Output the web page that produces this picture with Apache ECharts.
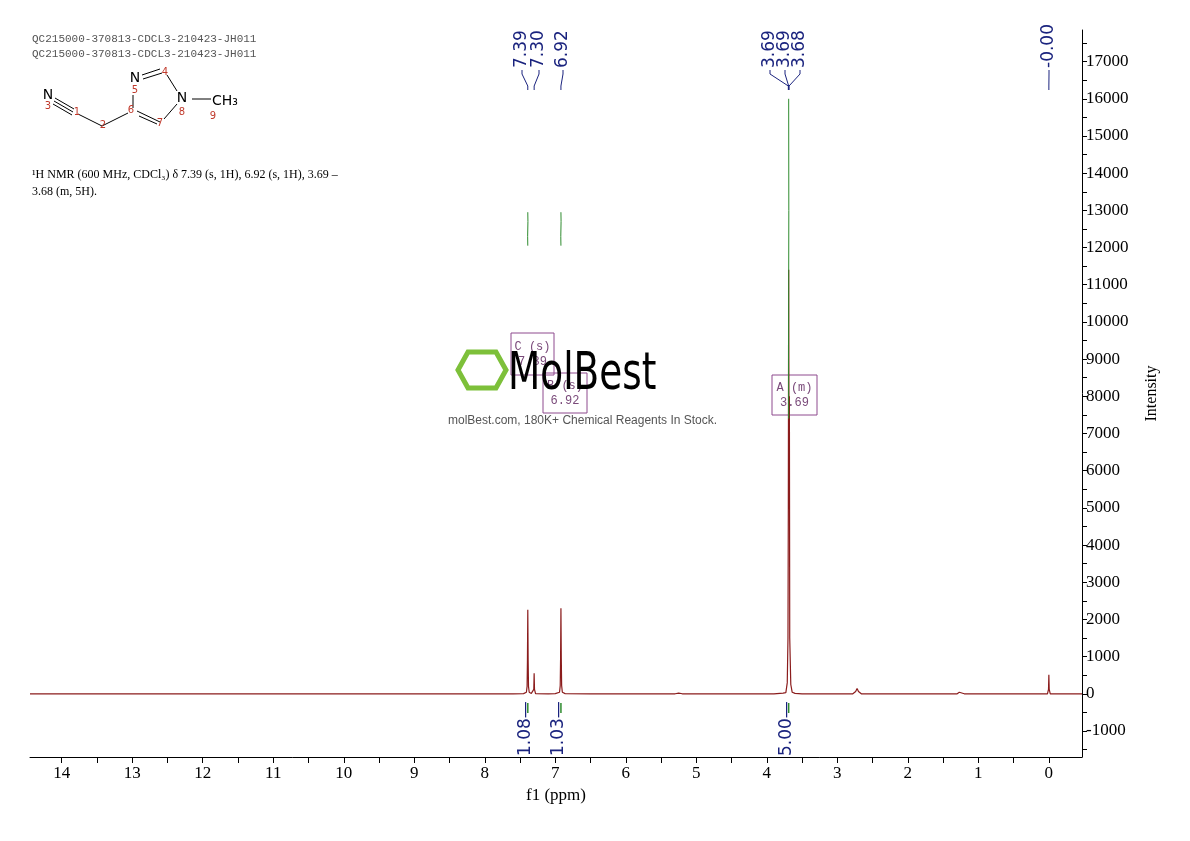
<!DOCTYPE html>
<html><head><meta charset="utf-8">
<script src="https://cdn.jsdelivr.net/npm/echarts@6/dist/echarts.min.js"></script>
<style>html,body{margin:0;padding:0;background:#fff}#c{width:1190px;height:841px}</style>
</head><body><div id="c"></div>
<script>
// spectrum points: [ppm, intensity]
const spectrum = [
 [14.45,0],[9.5,0],[7.6,0],[7.45,5],[7.41,40],[7.40,200],[7.395,900],[7.39,2260],[7.385,900],[7.38,200],[7.37,40],
 [7.34,10],[7.305,120],[7.30,550],[7.295,120],[7.28,5],[7.1,0],[7.0,5],[6.94,40],[6.93,220],[6.925,950],[6.92,2300],[6.915,950],[6.91,220],[6.90,40],[6.86,5],
 [6.5,0],[5.3,0],[5.25,20],[5.2,0],[3.9,0],[3.77,20],[3.75,60],[3.73,30],[3.71,300],[3.70,1500],[3.695,5000],[3.69,11400],[3.685,6000],[3.68,8000],[3.675,1500],[3.66,250],[3.64,40],[3.62,50],[3.60,10],[3.5,0],
 [3.33,0],[3.31,40],[3.29,0],[2.78,0],[2.74,60],[2.72,140],[2.70,60],[2.66,0],[1.3,0],[1.27,40],[1.25,10],[1.2,0],
 [0.02,0],[0.005,120],[0.0,510],[-0.005,120],[-0.02,0],[-0.47,0]
];
const integral1 = [[7.39,12050],[7.392,12300],[7.388,12700],[7.39,12950]];
const integral2 = [[6.92,12050],[6.922,12300],[6.918,12700],[6.92,12950]];
const integral3 = [[3.69,7400],[3.692,9000],[3.688,13000],[3.69,16000]];
const peakLabels = ['7.39','7.30','6.92','3.69','3.69','3.68','-0.00'];
const peakPos = [7.39,7.30,6.92,3.695,3.69,3.685,0.0];
const integralVals = ['1.08','1.03','5.00'];
const integralPos = [7.39,6.92,3.69];
const xLabels = [0,1,2,3,4,5,6,7,8,9,10,11,12,13,14];
const xTicks = [0,0.5,1,1.5,2,2.5,3,3.5,4,4.5,5,5.5,6,6.5,7,7.5,8,8.5,9,9.5,10,10.5,11,11.5,12,12.5,13,13.5,14];
const yLabels = [-1000,0,1000,2000,3000,4000,5000,6000,7000,8000,9000,10000,11000,12000,13000,14000,15000,16000,17000];
const yTicks = [];
for (const v of yLabels) { yTicks.push(v); yTicks.push(v+500); }
yTicks.unshift(-1500);

const chart = echarts.init(document.getElementById('c'));
const serif = 'Liberation Serif';
const green = '#2e8b2e';
chart.setOption({
  animation:false,
  grid:{left:30,right:108,top:30,bottom:84},
  xAxis:{type:'value',inverse:true,min:-0.47,max:14.45,
    name:'f1 (ppm)',nameLocation:'middle',nameGap:28,nameTextStyle:{fontFamily:serif,fontSize:17,color:'#000'},
    axisLine:{show:true,onZero:false,lineStyle:{color:'#000'}},
    axisTick:{show:true,customValues:xTicks,length:6,lineStyle:{color:'#000'}},
    axisLabel:{customValues:xLabels,fontFamily:serif,fontSize:17,color:'#000',margin:8},
    splitLine:{show:false}},
  yAxis:{type:'value',position:'right',min:-1700,max:17850,
    name:'Intensity',nameLocation:'middle',nameGap:62,nameRotate:90,nameTextStyle:{fontFamily:serif,fontSize:16,color:'#000'},
    axisLine:{show:true,onZero:false,lineStyle:{color:'#000'}},
    axisTick:{show:true,customValues:yTicks,length:5,lineStyle:{color:'#000'}},
    axisLabel:{customValues:yLabels,fontFamily:serif,fontSize:17,color:'#000',margin:4,formatter:v=>String(v)},
    splitLine:{show:false}},
  series:[
    {type:'line',data:spectrum,symbol:'none',lineStyle:{color:'#8b1c1c',width:1.2}},
    {type:'line',data:integral1,symbol:'none',lineStyle:{color:green,width:1}},
    {type:'line',data:integral2,symbol:'none',lineStyle:{color:green,width:1}},
    {type:'line',data:integral3,symbol:'none',lineStyle:{color:green,width:1}}
  ]
});

const navy = '#1a237e';
const g = [];
const labelX = [522,539,563,770,785,800,1049];
peakLabels.forEach((t,i)=>{
  const px = chart.convertToPixel({xAxisIndex:0},peakPos[i]);
  g.push({type:'text',x:labelX[i],y:68,rotation:Math.PI/2,style:{text:t,font:'17px "DejaVu Sans"',fill:navy,align:'left',verticalAlign:'middle'}});
  g.push({type:'polyline',shape:{points:[[labelX[i],70],[labelX[i],74],[px,86],[px,90]]},style:{stroke:navy,lineWidth:1,fill:null}});
});
integralVals.forEach((t,i)=>{
  const px = chart.convertToPixel({xAxisIndex:0},integralPos[i]);
  g.push({type:'line',shape:{x1:px,y1:703,x2:px,y2:713},style:{stroke:green,lineWidth:1.5}});
  g.push({type:'text',x:px-2,y:756,rotation:Math.PI/2,style:{text:t+'—',font:'17px "DejaVu Sans"',fill:navy,align:'left',verticalAlign:'middle'}});
});
// header texts
g.push({type:'text',left:32,top:32,style:{text:'QC215000-370813-CDCL3-210423-JH011\nQC215000-370813-CDCL3-210423-JH011',font:'11px "Liberation Mono"',fill:'#555',lineHeight:15}});
g.push({type:'text',left:32,top:166,style:{text:'¹H NMR (600 MHz, CDCl₃) δ 7.39 (s, 1H), 6.92 (s, 1H), 3.69 –\n3.68 (m, 5H).',font:'12px "Liberation Serif"',fill:'#000',lineHeight:17}});
// structure
const L=(pts)=>g.push({type:'polyline',shape:{points:pts},style:{stroke:'#000',lineWidth:1,fill:null}});
L([[55,98],[74,109]]);L([[54,101],[73,112]]);L([[53,104],[72,115]]);
L([[78,114],[102,126],[128,113]]);
L([[133,108],[133,95]]);
L([[143,79],[162,73]]);L([[142,75],[160,69]]);
L([[167,75],[177,91]]);
L([[192,99],[211,99]]);
L([[177,104],[164,119]]);
L([[137,111],[160,122]]);L([[139,116],[157,124]]);
const T=(t,x,y,c,f)=>g.push({type:'text',x:x,y:y,style:{text:t,font:f,fill:c,align:'center',verticalAlign:'middle'}});
T('N',48,95,'#000','14px "DejaVu Sans"');
T('N',135,78,'#000','14px "DejaVu Sans"');
T('N',182,98,'#000','14px "DejaVu Sans"');
g.push({type:'text',x:212,y:101,style:{text:'CH₃',font:'14px "DejaVu Sans"',fill:'#000',verticalAlign:'middle'}});
[['3',48,106],['1',77,112],['2',103,125],['6',131,110],['5',135,90],['4',165,72],['7',160,123],['8',182,112],['9',213,116]].forEach(a=>T(a[0],a[1],a[2],'#c0392b','10px "DejaVu Sans"'));
// annotation boxes
const boxes=[[511,333,43,42,'C (s)\n7.39'],[543,373,44,40,'B (s)\n6.92'],[772,375,45,40,'A (m)\n3.69']];
boxes.forEach(b=>{
  g.push({type:'rect',shape:{x:b[0],y:b[1],width:b[2],height:b[3]},style:{stroke:'#8e4a8e',fill:null,lineWidth:1}});
  g.push({type:'text',x:b[0]+b[2]/2,y:b[1]+b[3]/2,style:{text:b[4],font:'12px "Liberation Mono"',fill:'#7a4a7a',align:'center',verticalAlign:'middle',lineHeight:15}});
});
// watermark
g.push({type:'polygon',shape:{points:[[458,370],[468,352],[496,352],[506,370],[496,388],[468,388]]},style:{stroke:'#7dc03a',lineWidth:5,fill:null}});
g.push({type:'text',x:508,y:375,scaleX:0.72,style:{text:'MolBest',font:'52px "DejaVu Sans"',fill:'#000',verticalAlign:'middle'}});
g.push({type:'text',x:448,y:421,style:{text:'molBest.com, 180K+ Chemical Reagents In Stock.',font:'12px "Liberation Sans"',fill:'#555',verticalAlign:'middle'}});
chart.setOption({graphic:g});
</script></body></html>
